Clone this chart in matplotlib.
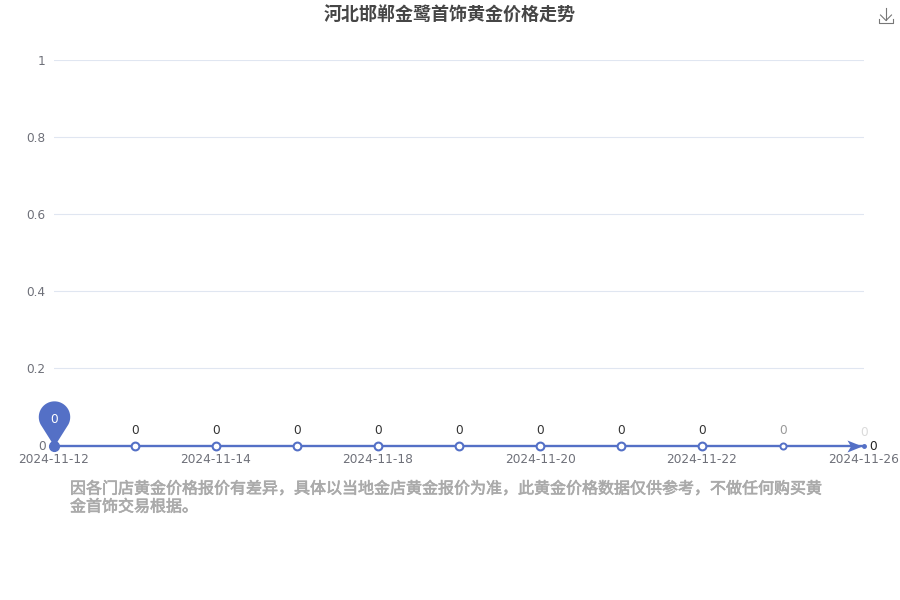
#!/usr/bin/env python
# -*- coding: utf-8 -*-
import numpy as np
import matplotlib
matplotlib.use('Agg')
import matplotlib.pyplot as plt
import matplotlib.patheffects as pe
from matplotlib.lines import Line2D
from matplotlib.path import Path

plt.rcParams['font.family'] = ['DejaVu Sans', 'Noto Sans CJK SC']

title = '河北邯郸金鹭首饰黄金价格走势'
note_lines = ['因各门店黄金价格报价有差异，具体以当地金店黄金报价为准，此黄金价格数据仅供参考，不做任何购买黄',
              '金首饰交易根据。']
tick_labels = ['2024-11-12', '2024-11-14', '2024-11-18', '2024-11-20', '2024-11-22', '2024-11-26']
tick_idx = [0, 2, 4, 6, 8, 10]
values = [0, 0, 0, 0, 0, 0, 0, 0, 0, 0, 0]
y_ticks = [0, 0.2, 0.4, 0.6, 0.8, 1]
y_labels = ['0', '0.2', '0.4', '0.6', '0.8', '1']

BLUE = '#5470c6'
W, H = 900, 600


def fx(px):
    return px / W


def fy(py):
    return 1 - py / H


fig = plt.figure(figsize=(9, 6), dpi=100)
ax = fig.add_axes([fx(54), fy(445.5), fx(864) - fx(54), fy(60) - fy(445.5)])
x = np.arange(len(values))
ax.set_xlim(0, len(values) - 1)
ax.set_ylim(0, 1)
for s in ax.spines.values():
    s.set_visible(False)

# grid
ax.set_yticks(y_ticks)
ax.set_yticklabels(y_labels, fontsize=8.7, color='#6e7079')
ax.set_xticks(tick_idx)
ax.set_xticklabels(tick_labels, fontsize=8.7, color='#6e7079')
ax.tick_params(axis='both', length=0)
ax.tick_params(axis='y', pad=6)
ax.tick_params(axis='x', pad=5.5)
ax.grid(axis='y', color='#e0e6f1', lw=0.8)
ax.set_axisbelow(True)

# line + markers (last two are still small in the reference)
ax.plot(x, values, color=BLUE, lw=1.7, clip_on=False, zorder=3)
for i in x[1:9]:
    ax.plot(i, values[i], 'o', ms=5.6, mfc='white', mec=BLUE, mew=1.5, clip_on=False, zorder=4)
ax.plot(9, values[9], 'o', ms=4.4, mfc='white', mec=BLUE, mew=1.4, clip_on=False, zorder=4)
ax.plot(10, values[10], 'o', ms=2.5, mfc=BLUE, mec=BLUE, clip_on=False, zorder=4)
ax.plot(0, values[0], 'o', ms=7, color=BLUE, clip_on=False, zorder=5)

# arrow of the mark line, notched head with the tip just before the last point
arrow = Path([(-2, 0), (-17, 6), (-13.5, 0), (-17, -6), (-2, 0)], closed=True)
ax.plot(x[-1], values[-1], marker=arrow, ms=24.5, color=BLUE, mew=0, clip_on=False, zorder=5)
ax.annotate('0', xy=(10, 0), xytext=(3.5, -0.7), textcoords='offset points', fontsize=8.7, color='#222222',
            va='center', ha='left', annotation_clip=False)

# value labels
alphas = [1, 1, 1, 1, 1, 1, 1, 1, 1, 0.5, 0.18]
for i in x[1:]:
    ax.annotate(str(values[i]), xy=(i, values[i]), xytext=(0, 8 if i < 10 else 6.5), textcoords='offset points',
                fontsize=8.7, color='#333333', alpha=alphas[i], ha='center', va='baseline',
                annotation_clip=False)

# pin marker: tip at the origin, head above it
t = np.linspace(-0.2 * np.pi, 1.2 * np.pi, 40)
r = 15.5
hx = r * np.cos(t)
hy = 29 + r * np.sin(t)
verts = np.column_stack([np.r_[0, hx, 0], np.r_[0, hy, 0]])
pin = Path(verts, closed=True)
ax.plot(0, values[0], marker=pin, ms=65, color=BLUE, mew=0, clip_on=False, zorder=5)
ax.annotate(str(values[0]), xy=(0, values[0]), xytext=(0, 19), textcoords='offset points',
            fontsize=8.7, color='white', ha='center', va='center', zorder=6, annotation_clip=False)

# title and note
fig.text(0.5, fy(15.5), title, fontsize=13, fontweight='bold', color='#464646', ha='center', va='center',
         family=['Noto Sans CJK SC', 'DejaVu Sans'])
for line, py in zip(note_lines, [489, 507]):
    t_note = fig.text(fx(70), fy(py), line, fontsize=11.52, color='#aaaaaa', ha='left', va='center',
                      family=['Noto Sans CJK SC', 'DejaVu Sans'])
    t_note.set_path_effects([pe.withStroke(linewidth=0.45, foreground='#aaaaaa')])

# download icon
icon = [([886, 886], [8, 20]), ([880.5, 886, 891.5], [15, 20.5, 15]), ([879, 879, 893, 893], [19, 23, 23, 19])]
for xs, ys in icon:
    fig.add_artist(Line2D([fx(v) for v in xs], [fy(v) for v in ys], color='#777777', lw=0.8))

fig.savefig('out.png', dpi=100)
